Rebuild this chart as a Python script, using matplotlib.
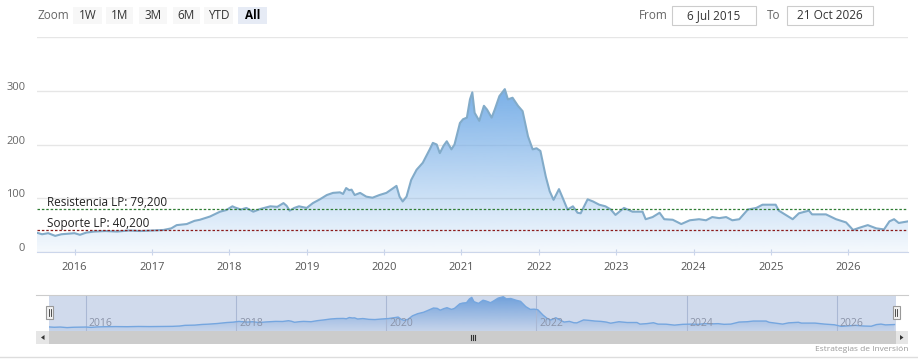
import numpy as np
import matplotlib
matplotlib.use('Agg')
import matplotlib.pyplot as plt
from matplotlib.patches import Rectangle, Polygon
from matplotlib.transforms import ScaledTranslation

plt.rcParams['font.family'] = ['Open Sans', 'DejaVu Sans']

# fecha en años decimales, precio
years = [2015.51, 2015.58, 2015.66, 2015.75, 2015.83, 2015.92, 2016.0, 2016.07, 2016.15, 2016.25,
         2016.4, 2016.55, 2016.7, 2016.85, 2017.0, 2017.15, 2017.25, 2017.32, 2017.45, 2017.55,
         2017.62, 2017.75, 2017.88, 2017.96, 2018.04, 2018.07, 2018.15, 2018.22, 2018.31, 2018.4,
         2018.53, 2018.62, 2018.7, 2018.74, 2018.78, 2018.84, 2018.9, 2019.0, 2019.08, 2019.17,
         2019.26, 2019.34, 2019.43, 2019.47, 2019.51, 2019.55, 2019.58, 2019.62, 2019.69, 2019.77,
         2019.85, 2019.94, 2020.03, 2020.12, 2020.16, 2020.2, 2020.24, 2020.29, 2020.35, 2020.42,
         2020.5, 2020.59, 2020.63, 2020.68, 2020.72, 2020.77, 2020.81, 2020.87, 2020.91, 2020.98,
         2021.02, 2021.07, 2021.11, 2021.14, 2021.17, 2021.23, 2021.29, 2021.33, 2021.39, 2021.43,
         2021.49, 2021.56, 2021.6, 2021.66, 2021.73, 2021.79, 2021.86, 2021.92, 2021.97, 2022.02,
         2022.09, 2022.14, 2022.19, 2022.26, 2022.31, 2022.37, 2022.44, 2022.5, 2022.54, 2022.63,
         2022.7, 2022.78, 2022.86, 2022.93, 2022.99, 2023.1, 2023.21, 2023.34, 2023.38, 2023.47,
         2023.56, 2023.62, 2023.73, 2023.84, 2023.95, 2024.07, 2024.16, 2024.24, 2024.33, 2024.42,
         2024.5, 2024.59, 2024.7, 2024.81, 2024.89, 2025.0, 2025.06, 2025.1, 2025.2, 2025.28,
         2025.36, 2025.49, 2025.53, 2025.71, 2025.84, 2025.97, 2026.06, 2026.14, 2026.25, 2026.36,
         2026.46, 2026.53, 2026.59, 2026.65, 2026.77]
prices = [36, 33, 35, 30, 33, 34, 35, 32, 36, 38,
          39, 38, 40, 39, 40, 41, 44, 50, 52, 58,
          60, 66, 75, 78, 85, 83, 79, 82, 75, 80,
          85, 84, 91, 86, 77, 82, 85, 82, 91, 98,
          106, 110, 111, 108, 119, 115, 116, 106, 110, 103,
          101, 106, 110, 119, 123, 103, 94, 103, 134, 153,
          166, 191, 203, 200, 184, 198, 206, 191, 200, 240,
          247, 250, 284, 297, 259, 244, 272, 265, 250, 265,
          290, 303, 284, 287, 272, 262, 215, 191, 193, 188,
          140, 113, 97, 117, 100, 79, 85, 73, 72, 98,
          94, 88, 85, 79, 69, 82, 75, 75, 61, 65,
          73, 61, 60, 52, 59, 61, 59, 65, 63, 65,
          59, 61, 79, 82, 88, 88, 88, 77, 68, 61,
          72, 77, 70, 70, 61, 55, 41, 45, 50, 44,
          42, 57, 61, 54, 57]

resistencia = 79.2
soporte = 40.2
year_ticks = list(range(2016, 2027))
nav_ticks = [2016, 2018, 2020, 2022, 2024, 2026]
buttons = ['1W', '1M', '3M', '6M', 'YTD', 'All']

W, H = 918, 364
fig = plt.figure(figsize=(W / 100, H / 100), dpi=100)


def px_axes(left, top, right, bottom):
    return fig.add_axes([left / W, 1 - bottom / H, (right - left) / W, (bottom - top) / H])


def gradient_fill(ax, x, y, ymax, a0, a1):
    poly = ax.fill_between(x, y, 0, color='none', lw=0)
    grad = np.zeros((256, 1, 4))
    grad[:, 0, 0] = 112 / 255
    grad[:, 0, 1] = 170 / 255
    grad[:, 0, 2] = 230 / 255
    grad[:, 0, 3] = np.linspace(a0, a1, 256)
    im = ax.imshow(grad, extent=[x[0], x[-1], 0, ymax], aspect='auto', origin='lower', zorder=1)
    im.set_clip_path(poly.get_paths()[0], transform=ax.transData)


# grafico principal
ax = px_axes(37, 37, 908, 252)
ax.set_xlim(2015.515, 2026.77)
ax.set_ylim(0, 400)
gradient_fill(ax, years, prices, 310, 0.07, 0.95)
ax.plot(years, prices, color='#82abc9', lw=1.5, zorder=3)
ax.axhline(resistencia, color='#2e7d32', lw=0.9, ls=(0, (2, 1.5)), zorder=4)
ax.axhline(soporte, color='#8b1a1a', lw=0.9, ls=(0, (2, 1.5)), zorder=4)
ax.set_yticks([0, 100, 200, 300, 400])
ax.set_yticklabels(['0', '100', '200', '300', ''])
ax.grid(axis='y', color='#e6e6e6', lw=1)
ax.set_axisbelow(True)
ax.set_xticks(year_ticks)
ax.set_xticklabels([str(y) for y in year_ticks])
ax.tick_params(axis='y', length=0, pad=8.5, labelsize=8, labelcolor='#666666')
ax.tick_params(axis='x', length=5, color='#ccd6eb', direction='inout', pad=5, labelsize=8, labelcolor='#555555')
for lab in ax.get_yticklabels():
    lab.set_transform(lab.get_transform() + ScaledTranslation(0, 3.6 / 72, fig.dpi_scale_trans))
for s in ['top', 'right', 'left']:
    ax.spines[s].set_visible(False)
ax.spines['bottom'].set_color('#ccd6eb')

# navegador
nav = px_axes(49, 295, 896, 331)
nav.set_xlim(2015.51, 2026.79)
nav.set_ylim(0, 318)
gradient_fill(nav, years, prices, 310, 0.1, 1.0)
nav.plot(years, prices, color='#7cb5ec', lw=1, zorder=3)
for t in nav_ticks:
    nav.axvline(t, color='#c8cfdc', lw=0.8, zorder=2)
    nav.text(t + 0.04, 62, str(t), fontsize=7.5, color='#8a93a8', va='center', ha='left', zorder=6)
nav.add_patch(Rectangle((0, 0), 1, 1, transform=nav.transAxes, color='#6685c2', alpha=0.3, lw=0, zorder=5))
nav.set_xticks([])
nav.set_yticks([])
for s in nav.spines.values():
    s.set_visible(False)

# capa de interfaz en pixeles
ui = fig.add_axes([0, 0, 1, 1], zorder=10)
ui.set_xlim(0, W)
ui.set_ylim(H, 0)
ui.axis('off')
ui.patch.set_alpha(0)

ui.text(37, 15.5, 'Zoom', fontsize=8.5, color='#666666', va='center', ha='left')
bx = [73, 106, 139, 173, 204, 238]
bw = [29, 27, 28, 27, 29, 29]
for b, x0, w in zip(buttons, bx, bw):
    sel = b == 'All'
    ui.add_patch(Rectangle((x0, 7), w, 17, color='#e6ebf5' if sel else '#f7f7f7', lw=0))
    ui.text(x0 + w / 2, 15.5, b, fontsize=8.5, color='#000000' if sel else '#333333',
            fontweight='bold' if sel else 'normal', va='center', ha='center')

ui.text(639, 15.5, 'From', fontsize=8.5, color='#666666', va='center', ha='left')
ui.add_patch(Rectangle((672, 6), 84, 19, fc='white', ec='#cccccc', lw=0.8))
ui.text(714, 15.5, '6 Jul 2015', fontsize=8.5, color='#333333', va='center', ha='center')
ui.text(767, 15.5, 'To', fontsize=8.5, color='#666666', va='center', ha='left')
ui.add_patch(Rectangle((787, 6), 86, 19, fc='white', ec='#cccccc', lw=0.8))
ui.text(830, 15.5, '21 Oct 2026', fontsize=8.5, color='#333333', va='center', ha='center')

ui.text(47, 209.5, 'Resistencia LP: 79,200', fontsize=8.5, color='#222222', va='bottom', ha='left')
ui.text(47, 230, 'Soporte LP: 40,200', fontsize=8.5, color='#222222', va='bottom', ha='left')

# contorno del navegador y scrollbar
ui.plot([36, 908], [295, 295], color='#cccccc', lw=0.8)
ui.add_patch(Rectangle((49, 331), 847, 13, color='#cccccc', lw=0))
ui.add_patch(Rectangle((36, 331), 13, 13, color='#e6e6e6', lw=0))
ui.add_patch(Rectangle((896, 331), 12, 13, color='#e6e6e6', lw=0))
ui.add_patch(Polygon([[44.5, 335], [44.5, 340], [41, 337.5]], color='#333333', lw=0))
ui.add_patch(Polygon([[900, 335], [900, 340], [903.5, 337.5]], color='#333333', lw=0))
for gx in [471, 473, 475]:
    ui.plot([gx, gx], [335, 340], color='#333333', lw=0.8)

for hx in [49.5, 896]:
    ui.add_patch(Rectangle((hx - 3.5, 306), 7, 13, fc='#f2f2f2', ec='#999999', lw=0.8))
    ui.plot([hx - 1, hx - 1], [309, 316], color='#333333', lw=0.6)
    ui.plot([hx + 1, hx + 1], [309, 316], color='#333333', lw=0.6)

ui.text(908, 349.5, 'Estrategias de Inversión', fontsize=6, color='#999999', va='center', ha='right')
ui.plot([0, W], [357, 357], color='#dddddd', lw=1)

fig.savefig('out.png', dpi=100)
